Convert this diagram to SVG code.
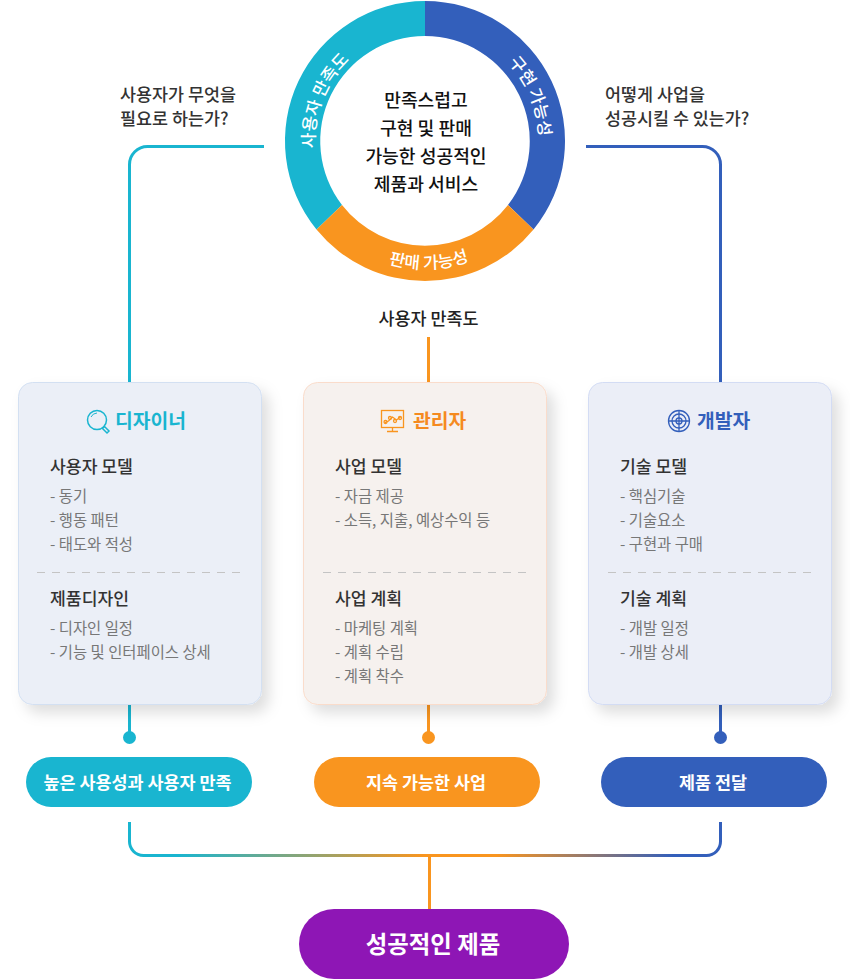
<svg xmlns="http://www.w3.org/2000/svg" xmlns:xlink="http://www.w3.org/1999/xlink" width="850" height="980" viewBox="0 0 850 980">
<style>
text{font-family:"Noto Sans CJK KR","Noto Sans",sans-serif;}
.c{text-anchor:middle}
.ring{font-size:17px;font-weight:500;fill:#fff}
.center{font-size:18.200px;font-weight:500;fill:#111;text-anchor:middle}
.q{font-size:17.400px;font-weight:500;fill:#333}
.q2{font-size:17.400px;font-weight:500;fill:#222;text-anchor:middle}
.title{font-size:19.300px;font-weight:700}
.h{font-size:17.200px;font-weight:500;fill:#333}
.li{font-size:15.400px;font-weight:400;fill:#777}
.pill{font-size:17.400px;font-weight:700;fill:#fff;text-anchor:middle}
.card{stroke-width:1;filter:url(#sh)}
.dash{stroke:#c4c4c4;stroke-width:1;stroke-dasharray:8 7;fill:none}
.ln{fill:none;stroke-width:3}
</style>
<defs>
<filter id="sh" x="-20%" y="-20%" width="140%" height="140%"><feDropShadow dx="7" dy="8" stdDeviation="7" flood-color="#000" flood-opacity=".13"/></filter>
<linearGradient id="g" gradientUnits="userSpaceOnUse" x1="129.5" y1="0" x2="720.5" y2="0"><stop offset=".08" stop-color="#19b5d0"/><stop offset=".5" stop-color="#f9951f"/><stop offset=".62" stop-color="#f9951f"/><stop offset=".92" stop-color="#335fbb"/></linearGradient>
<path id="pL" d="M 315 148 A 111 111 0 0 1 425 30"/>
<path id="pR" d="M 508 62.500 A 114 114 0 0 1 539 141"/>
<path id="pB" d="M 327 223.300 A 128 128 0 0 0 523 223.300"/>
</defs>
<g id="connectors">
<path class="ln" stroke="#19b5d0" d="M264 146.500H147.500A18 18 0 0 0 129.500 164.500V382"/>
<path class="ln" stroke="#335fbb" d="M586 146.500H702.500A18 18 0 0 1 720.500 164.500V382"/>
<path class="ln" stroke="#f9951f" d="M428.500 337V382"/>
<path class="ln" stroke="#19b5d0" d="M129.500 705V737"/><circle cx="129.500" cy="737.500" r="6.500" fill="#19b5d0"/>
<path class="ln" stroke="#f9951f" d="M428.500 705V737"/><circle cx="428.500" cy="737.500" r="6.500" fill="#f9951f"/>
<path class="ln" stroke="#335fbb" d="M720.500 705V737"/><circle cx="720.500" cy="737.500" r="6.500" fill="#335fbb"/>
<path class="ln" stroke="url(#g)" d="M129.500 822V841A14 14 0 0 0 143.500 855.500H706.500A14 14 0 0 0 720.500 841V822"/>
<path class="ln" stroke="#f9951f" d="M429.500 856V909"/>
</g>
<g id="ring">
<path fill="#335fbb" d="M425 1A140 140 0 0 1 533.500 229.500L508 205A105 105 0 0 0 425 36Z"/>
<path fill="#19b5d0" d="M425 1A140 140 0 0 0 316.500 229.500L342 205A105 105 0 0 1 425 36Z"/>
<path fill="#f9951f" d="M316.500 229.500A140 140 0 0 0 533.500 229.500L508 205A105 105 0 0 1 342 205Z"/>
<text class="ring"><textPath xlink:href="#pL" href="#pL">사용자 만족도</textPath></text>
<text class="ring"><textPath xlink:href="#pR" href="#pR">구현 가능성</textPath></text>
<text class="ring c"><textPath xlink:href="#pB" href="#pB" startOffset="115.700">판매 가능성</textPath></text>
<text class="center" x="426" y="106.500">만족스럽고</text>
<text class="center" x="426" y="134.500">구현 및 판매</text>
<text class="center" x="426" y="162.500">가능한 성공적인</text>
<text class="center" x="426" y="190.500">제품과 서비스</text>
</g>
<g id="q-left"><text class="q" x="120" y="100.500">사용자가 무엇을</text><text class="q" x="120" y="124.500">필요로 하는가?</text></g>
<g id="q-right"><text class="q" x="605" y="100.500">어떻게 사업을</text><text class="q" x="605" y="124.500">성공시킬 수 있는가?</text></g>
<g id="q-mid"><text class="q2" x="428.500" y="324.500">사용자 만족도</text></g>
<g id="card-designer">
<rect class="card" x="18.500" y="382.500" width="243" height="322" rx="14" fill="#ebeff7" stroke="#d3e0f2"/>
<g fill="none" stroke="#19b5d0" stroke-width="1.500"><circle cx="97" cy="420" r="9.500"/><path d="M91 417a7 7 0 0 1 6-4" stroke-width="1"/><path d="M103.500 427.500l1-1 4.500 4.500-2 2-4.500-4.500z"/></g>
<text class="title" x="115" y="428" fill="#19b5d0">디자이너</text>
<text class="h" x="50" y="472.500">사용자 모델</text>
<text class="li" x="50" y="501.500">- 동기</text><text class="li" x="50" y="525.500">- 행동 패턴</text><text class="li" x="50" y="549.500">- 태도와 적성</text>
<path class="dash" d="M37 572.500H243"/>
<text class="h" x="50" y="604.500">제품디자인</text>
<text class="li" x="50" y="633.500">- 디자인 일정</text><text class="li" x="50" y="657.500">- 기능 및 인터페이스 상세</text>
</g>
<g id="card-manager">
<rect class="card" x="303.500" y="382.500" width="243" height="322" rx="14" fill="#f6f1ee" stroke="#fadccb"/>
<g fill="none" stroke="#f9951f" stroke-width="1.300"><rect x="381.500" y="410.500" width="22" height="17"/><path d="M392.500 427.500v4M387 431.500h11M384.500 423l4-2 4-4 4 3 4-3"/><circle cx="385.500" cy="422" r="1.500"/><circle cx="390" cy="418" r="1.500"/><circle cx="395" cy="421" r="1.500"/><circle cx="400" cy="418" r="1.500"/></g>
<text class="title" x="413" y="428" fill="#f58a1f">관리자</text>
<text class="h" x="335" y="472.500">사업 모델</text>
<text class="li" x="335" y="501.500">- 자금 제공</text><text class="li" x="335" y="525.500">- 소득, 지출, 예상수익 등</text>
<path class="dash" d="M323 572.500H529"/>
<text class="h" x="335" y="604.500">사업 계획</text>
<text class="li" x="335" y="633.500">- 마케팅 계획</text><text class="li" x="335" y="657.500">- 계획 수립</text><text class="li" x="335" y="681.500">- 계획 착수</text>
</g>
<g id="card-developer">
<rect class="card" x="588.500" y="382.500" width="243" height="322" rx="14" fill="#ebeef7" stroke="#d3dcf4"/>
<g fill="none" stroke="#335fbb" stroke-width="1.300"><circle cx="679" cy="421" r="10.500"/><circle cx="679" cy="421" r="7"/><circle cx="679" cy="421" r="3"/><path d="M668.500 421h21M679 410.500v21"/></g>
<text class="title" x="697" y="428" fill="#335fbb">개발자</text>
<text class="h" x="620" y="472.500">기술 모델</text>
<text class="li" x="620" y="501.500">- 핵심기술</text><text class="li" x="620" y="525.500">- 기술요소</text><text class="li" x="620" y="549.500">- 구현과 구매</text>
<path class="dash" d="M608 572.500H814"/>
<text class="h" x="620" y="604.500">기술 계획</text>
<text class="li" x="620" y="633.500">- 개발 일정</text><text class="li" x="620" y="657.500">- 개발 상세</text>
</g>
<g id="pill-usability"><rect x="26" y="757" width="226" height="50" rx="25" fill="#19b5d0"/><text class="pill" x="137.500" y="788.500">높은 사용성과 사용자 만족</text></g>
<g id="pill-business"><rect x="314" y="757" width="226" height="50" rx="25" fill="#f9951f"/><text class="pill" x="426" y="788.500">지속 가능한 사업</text></g>
<g id="pill-delivery"><rect x="601" y="757" width="226" height="50" rx="25" fill="#335fbb"/><text class="pill" x="713" y="788.500">제품 전달</text></g>
<g id="pill-success"><rect x="299" y="909" width="270" height="70" rx="35" fill="#8e16b5"/><text class="pill" style="font-size:23.400px" x="433" y="953">성공적인 제품</text></g>
</svg>
